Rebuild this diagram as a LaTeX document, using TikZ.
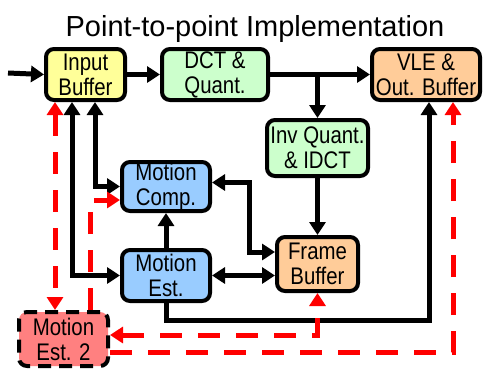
\documentclass[tikz,border=0pt]{standalone}
\usepackage{fontspec}
\setmainfont{Liberation Sans}
\newfontfamily\narrowfont[FakeStretch=0.85]{Liberation Sans}
\usetikzlibrary{arrows.meta,calc}
\definecolor{bufYellow}{HTML}{FFFF99}
\definecolor{xfGreen}{HTML}{CCFFCC}
\definecolor{bufOrange}{HTML}{FFCC99}
\definecolor{motBlue}{HTML}{99CCFF}
\definecolor{motRed}{HTML}{FF8080}
\definecolor{pathRed}{HTML}{FF0000}

\begin{document}
\begin{tikzpicture}[x=1pt,y=-1pt,
      block/.style={draw=black,line width=4pt,rounded corners=8pt,align=center,inner sep=0pt,
                  font=\narrowfont\fontsize{24}{25}\selectfont},
      title/.style={font=\fontsize{29}{32}\selectfont},
      link/.style={line width=5pt,black,-{Triangle[length=13pt,width=16pt]}},
      dlink/.style={line width=5pt,black,{Triangle[length=13pt,width=16pt]}-{Triangle[length=13pt,width=16pt]}},
      rlink/.style={line width=5pt,pathRed,dash pattern=on 22pt off 16pt,-{Triangle[length=13pt,width=16pt]}},
      drlink/.style={line width=5pt,pathRed,dash pattern=on 22pt off 16pt,
                  {Triangle[length=13pt,width=16pt]}-{Triangle[length=13pt,width=16pt]}}]
    \useasboundingbox (0,0) rectangle (487,370);
    \node[title,anchor=base] (ttl) at (255,36) {Point-to-point Implementation};

    \node[block,fill=bufYellow,minimum width=79,minimum height=51] (inbuf) at (85.5,74.5) {Input\\Buffer};
    \node[block,fill=xfGreen,minimum width=106,minimum height=51] (dct) at (215,74.5) {DCT \&\\Quant.};
    \node[block,fill=bufOrange,minimum width=108,minimum height=51] (vle) at (426,74.5) {VLE \&\\Out. Buffer};
    \node[block,fill=xfGreen,minimum width=101,minimum height=56] (iq) at (317.5,148) {Inv Quant.\\\& IDCT};
    \node[block,fill=bufOrange,minimum width=81,minimum height=54] (fb) at (317.5,264) {Frame\\Buffer};
    \node[block,fill=motBlue,minimum width=88,minimum height=49] (mc) at (166,186.5) {Motion\\Comp.};
    \node[block,fill=motBlue,minimum width=88,minimum height=51] (me) at (166,275.5) {Motion\\Est.};
    \node[block,fill=motRed,dash pattern=on 13pt off 8pt,
          minimum width=89,minimum height=54] (me2) at (63.5,339) {Motion\\Est. 2};

    \coordinate (src) at (8,73);
    \draw[link] (src) -- (inbuf.west);
    \draw[link] (inbuf.east) -- (dct.west);
    \draw[link] (dct.east) -- (vle.west);
    \draw[link] (dct.east -| iq.north) -- (iq.north);
    \draw[link] (iq.south) -- (fb.north);

    \draw[dlink] ([xshift=-13.5pt]inbuf.south) |- (me.west);
    \draw[dlink] ([xshift=9.5pt]inbuf.south) |- (mc.west);
    \draw[link] (me.north) -- (mc.south);
    \draw[dlink] ([yshift=12pt]fb.west) -- ++(-26,0) |- ([yshift=4pt]mc.east);
    \draw[dlink] (me.east) -- (me.east -| fb.west);
    \draw[link] (me.south) -- ++(0,17) -| ([xshift=3pt]vle.south);

    % second motion estimator
    \draw[drlink] ([xshift=-30.5pt]inbuf.south) -- ([xshift=-30.5pt]inbuf.south |- me2.north);
    \draw[rlink] ([xshift=26.5pt]me2.north) |- ([yshift=-13.5pt]mc.west);
    \draw[drlink] ([yshift=4pt]me2.east) -| (fb.south);
    \draw[rlink] ([yshift=-13pt]me2.east) -| ([xshift=27pt]vle.south);
  \end{tikzpicture}
\end{document}
